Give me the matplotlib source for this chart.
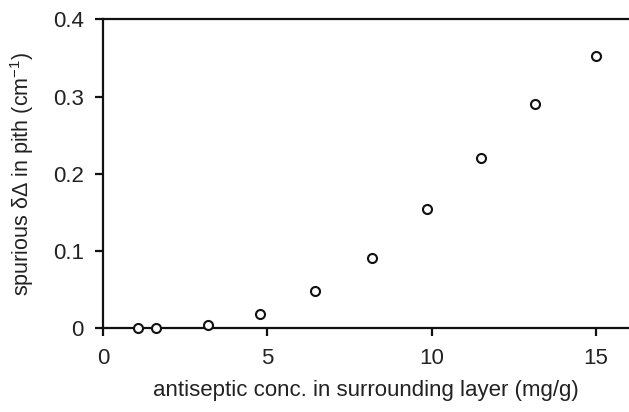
import matplotlib
matplotlib.use("Agg")
import matplotlib.pyplot as plt

# concentration in the surrounding layer (mg/g) and spurious delta-Delta in pith (cm^-1)
conc = [1.05, 1.6, 3.2, 4.77, 6.45, 8.18, 9.85, 11.49, 13.13, 15.0]
spurious = [0.0, 0.0, 0.005, 0.018, 0.049, 0.091, 0.155, 0.221, 0.291, 0.352]

xticks = [0, 5, 10, 15]
yticks = [0, 0.1, 0.2, 0.3, 0.4]
yticklabels = ["0", "0.1", "0.2", "0.3", "0.4"]

plt.rcParams['font.family'] = ['Liberation Sans', 'DejaVu Sans']
plt.rcParams['mathtext.fontset'] = 'custom'
plt.rcParams['mathtext.rm'] = 'Liberation Sans'
plt.rcParams['mathtext.it'] = 'Liberation Sans:italic'

fig = plt.figure(figsize=(6.29, 4.12), dpi=100)
ax = fig.add_axes([0.164, 0.203, 0.836, 0.750])

ax.plot(conc, spurious, linestyle='none', marker='o', markersize=6.5,
        markerfacecolor='white', markeredgecolor='#111111', markeredgewidth=1.5,
        clip_on=False, zorder=3)

ax.set_xlim(0, 16)
ax.set_ylim(0, 0.4)
ax.set_xticks(xticks)
ax.set_xticklabels([str(t) for t in xticks])
ax.set_yticks(yticks)
ax.set_yticklabels(yticklabels)

for side in ['left', 'bottom', 'top']:
    ax.spines[side].set_linewidth(1.6)
    ax.spines[side].set_color('#111111')
ax.spines['right'].set_visible(False)

ax.tick_params(axis='both', direction='out', length=6, width=1.6, color='#111111',
               labelsize=16, labelcolor='#222222', pad=8)

ax.set_xlabel('antiseptic conc. in surrounding layer (mg/g)', fontsize=16,
              color='#222222', labelpad=8)
ax.set_ylabel(r'spurious δΔ in pith (cm$^{-1}$)', fontsize=15.5,
              color='#222222', labelpad=12)

fig.savefig('out.png', dpi=100)
